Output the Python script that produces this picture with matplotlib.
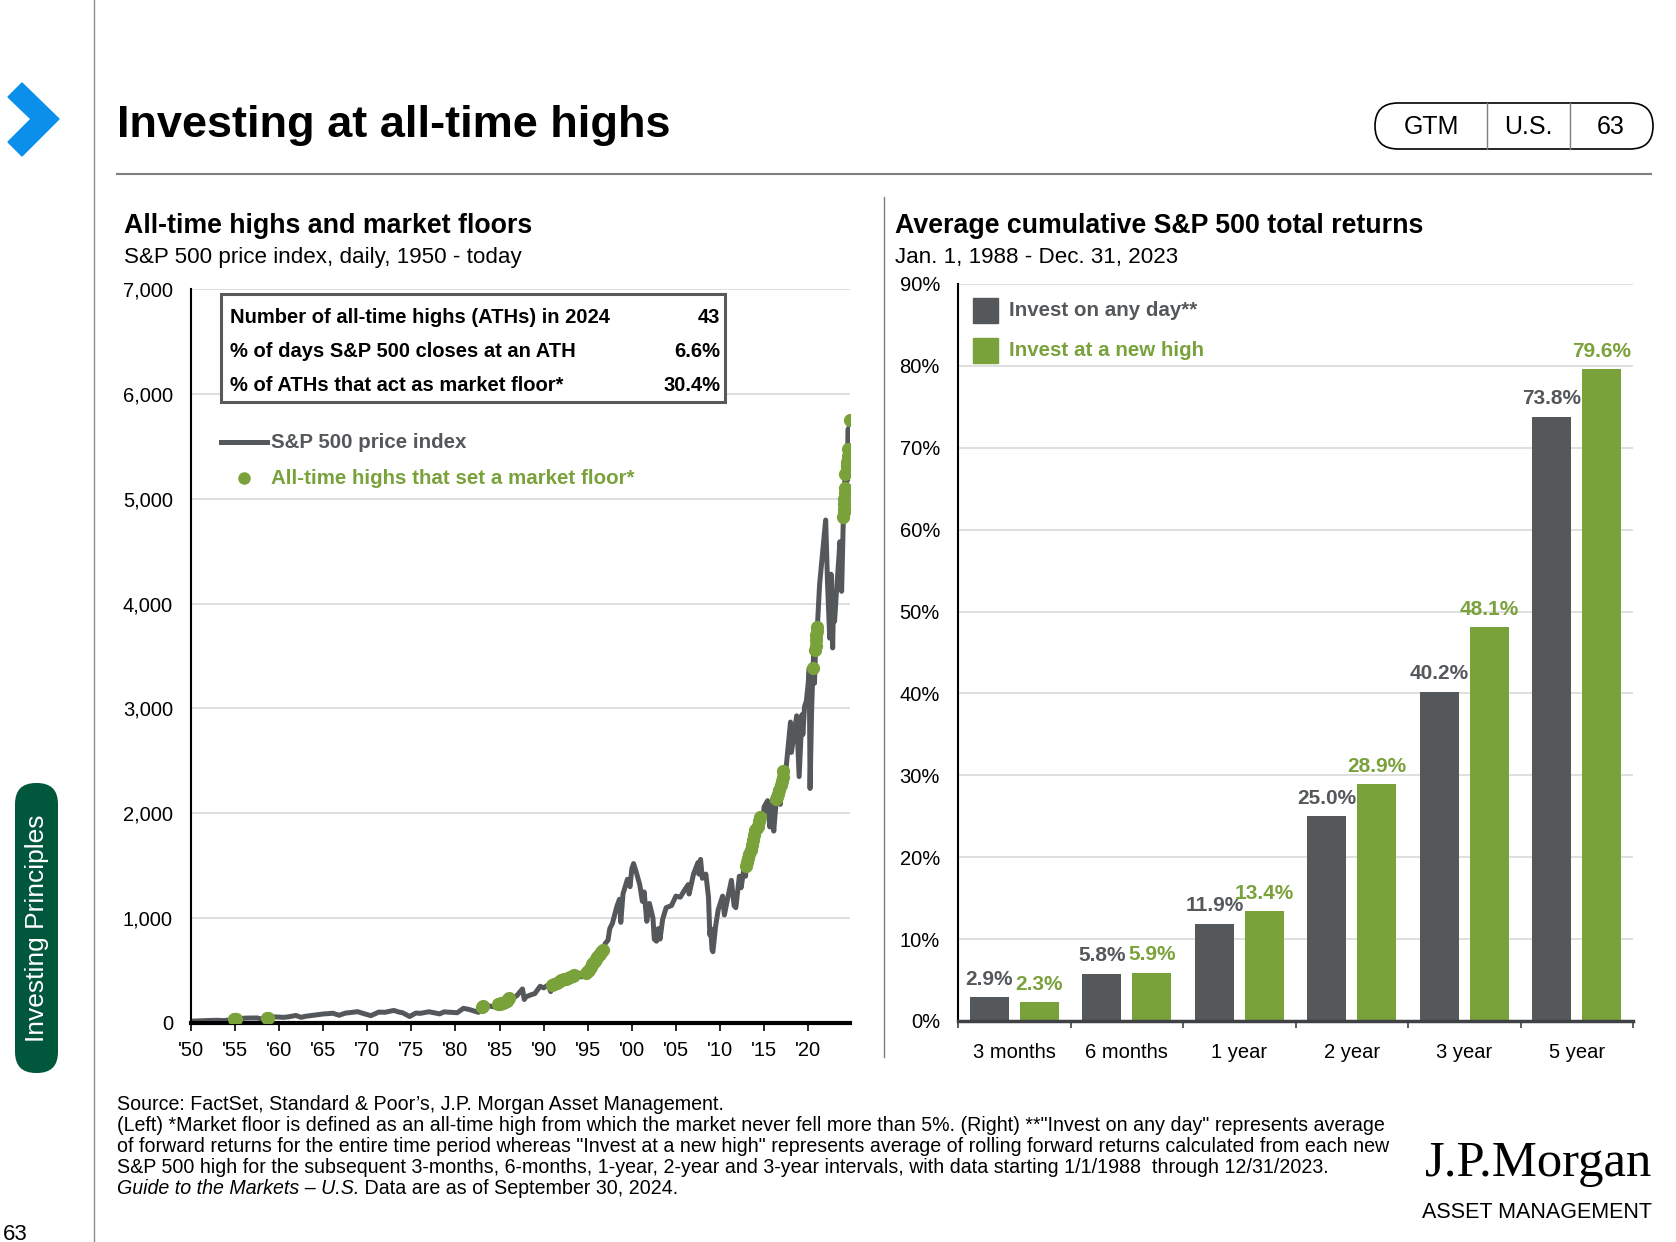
import matplotlib.pyplot as plt
from matplotlib.patches import Polygon, FancyBboxPatch, Rectangle

plt.rcParams['font.family'] = ['Liberation Sans', 'DejaVu Sans']

GRAY = '#55585B'
GREEN = '#7AA23B'
GRID = '#D9D9D9'

# S&P 500 price index
sp_year = [1950.0, 1951.0, 1952.0, 1953.0, 1953.7, 1954.5, 1955.0, 1955.5, 1956.3, 1957.5,
           1957.9, 1958.7, 1959.5, 1960.5, 1961.0, 1961.9, 1962.5, 1963.0, 1964.0, 1965.0,
           1966.1, 1966.8, 1967.5, 1968.9, 1969.5, 1970.4, 1971.3, 1972.0, 1973.0, 1973.6,
           1974.0, 1974.8, 1975.5, 1976.0, 1977.0, 1978.2, 1978.7, 1979.5, 1980.2, 1980.9,
           1981.5, 1982.6, 1983.0, 1983.5, 1984.5, 1984.8, 1985.5, 1986.1, 1986.6, 1987.0,
           1987.6, 1987.8, 1988.0, 1988.6, 1989.0, 1989.6, 1990.0, 1990.5, 1990.8, 1991.0,
           1991.5, 1992.0, 1992.5, 1993.0, 1993.5, 1994.0, 1994.3, 1994.8, 1995.2, 1995.5,
           1995.8, 1996.1, 1996.4, 1996.7, 1997.0, 1997.3, 1997.5, 1997.8, 1998.3, 1998.6,
           1998.75, 1999.0, 1999.5, 1999.8, 2000.0, 2000.2, 2000.5, 2000.9, 2001.2, 2001.4,
           2001.7, 2002.0, 2002.4, 2002.55, 2002.8, 2003.0, 2003.2, 2003.5, 2003.9, 2004.5,
           2005.0, 2005.5, 2006.0, 2006.4, 2006.5, 2007.0, 2007.5, 2007.6, 2007.8, 2008.0,
           2008.4, 2008.7, 2008.85, 2008.95, 2009.1, 2009.2, 2009.5, 2009.8, 2010.3, 2010.5,
           2010.9, 2011.3, 2011.6, 2011.8, 2012.2, 2012.4, 2012.7, 2012.9, 2013.0, 2013.2,
           2013.5, 2013.8, 2014.0, 2014.1, 2014.3, 2014.5, 2014.8, 2015.0, 2015.4, 2015.65,
           2015.9, 2016.1, 2016.4, 2016.6, 2016.85, 2016.9, 2017.1, 2017.2, 2017.5, 2018.0,
           2018.1, 2018.7, 2018.98, 2019.3, 2019.4, 2019.6, 2019.8, 2020.0, 2020.13, 2020.22,
           2020.4, 2020.55, 2020.66, 2020.72, 2020.85, 2020.95, 2021.05, 2021.3, 2021.6, 2021.99,
           2022.2, 2022.45, 2022.6, 2022.78, 2022.9, 2023.0, 2023.2, 2023.5, 2023.6, 2023.8,
           2024.0, 2024.07, 2024.12, 2024.2, 2024.3, 2024.38, 2024.45, 2024.5, 2024.55, 2024.6,
           2024.72]
sp_level = [17, 21, 24, 26, 23, 30, 37, 42, 47, 48,
            40, 50, 58, 54, 58, 72, 54, 64, 75, 86,
            93, 74, 94, 108, 92, 70, 104, 102, 120, 104,
            98, 62, 95, 92, 107, 87, 106, 102, 98, 140,
            130, 102, 150, 168, 152, 180, 192, 240, 238, 265,
            325, 224, 250, 270, 280, 350, 335, 362, 300, 365,
            385, 410, 420, 435, 454, 475, 440, 480, 510, 560,
            590, 630, 660, 700, 760, 790, 900, 950, 1110, 1180,
            960, 1230, 1370, 1300, 1470, 1520, 1440, 1320, 1160, 1250,
            970, 1140, 1000, 800, 780, 900, 800, 990, 1100, 1120,
            1210, 1200, 1270, 1320, 1230, 1420, 1530, 1420, 1560, 1380,
            1420, 1200, 840, 900, 700, 680, 920, 1080, 1210, 1030,
            1200, 1360, 1120, 1100, 1400, 1290, 1460, 1400, 1500, 1570,
            1650, 1750, 1840, 1740, 1880, 1967, 1860, 2060, 2120, 1870,
            2090, 1830, 2140, 2180, 2085, 2270, 2350, 2400, 2430, 2870,
            2580, 2930, 2350, 2940, 2750, 3020, 3070, 3230, 3386, 2237,
            3000, 3390, 3560, 3240, 3600, 3700, 3780, 4180, 4450, 4797,
            4200, 3670, 4280, 3577, 4080, 3830, 4100, 4450, 4590, 4117,
            4830, 4900, 5000, 5240, 4970, 5300, 5350, 5470, 5667, 5186,
            5748]

# all-time highs that set a market floor
ath_year = [1954.9, 1955.0, 1955.1, 1958.6, 1958.75,
            1983.0, 1983.1, 1984.8, 1985.0, 1985.2, 1985.4, 1985.6, 1985.8, 1986.0, 1986.1,
            1991.0, 1991.2, 1991.5, 1991.8, 1992.0, 1992.3, 1992.5, 1992.8, 1993.0, 1993.3, 1993.5,
            1994.8, 1995.0, 1995.2, 1995.35, 1995.5, 1995.65, 1995.8, 1995.95, 1996.1, 1996.25,
            1996.4, 1996.55, 1996.7,
            2013.0, 2013.1, 2013.2, 2013.35, 2013.5, 2013.65, 2013.8, 2013.9, 2014.0, 2014.15,
            2014.3, 2014.4, 2014.5,
            2016.4, 2016.5, 2016.6, 2016.75, 2016.9, 2017.0, 2017.1, 2017.2,
            2020.55, 2020.8, 2020.85, 2020.9, 2020.95, 2021.0, 2021.05,
            2024.0, 2024.04, 2024.07, 2024.1, 2024.12, 2024.15, 2024.17, 2024.2, 2024.38, 2024.42,
            2024.45, 2024.48, 2024.5, 2024.72]
ath_level = [36, 37, 39, 49, 51,
             150, 158, 180, 183, 186, 192, 198, 210, 225, 240,
             365, 375, 385, 400, 410, 415, 420, 428, 435, 445, 454,
             480, 495, 510, 535, 560, 575, 590, 610, 630, 645,
             660, 680, 700,
             1500, 1535, 1570, 1610, 1650, 1700, 1750, 1795, 1840, 1860,
             1880, 1925, 1967,
             2140, 2160, 2180, 2225, 2270, 2310, 2350, 2400,
             3390, 3560, 3600, 3650, 3700, 3740, 3780,
             4830, 4870, 4900, 4950, 5000, 5050, 5100, 5240, 5300, 5320,
             5350, 5410, 5470, 5748]

year_ticks = list(range(1950, 2021, 5))
year_labels = ["'50", "'55", "'60", "'65", "'70", "'75", "'80", "'85",
               "'90", "'95", "'00", "'05", "'10", "'15", "'20"]

table_labels = ['Number of all-time highs (ATHs) in 2024',
                '% of days S&P 500 closes at an ATH',
                '% of ATHs that act as market floor*']
table_values = ['43', '6.6%', '30.4%']

periods = ['3 months', '6 months', '1 year', '2 year', '3 year', '5 year']
any_day = [2.9, 5.8, 11.9, 25.0, 40.2, 73.8]
new_high = [2.3, 5.9, 13.4, 28.9, 48.1, 79.6]

W, H = 1676, 1242
fig = plt.figure(figsize=(W / 100, H / 100), dpi=100)

# ---- left chart ----
ax1 = fig.add_axes([191 / W, 1 - 1023 / H, (850 - 191) / W, (1023 - 289) / H])
ax1.plot(sp_year, sp_level, color=GRAY, lw=3.6, zorder=2)
ax1.plot(ath_year, ath_level, 'o', color=GREEN, ms=8.5, zorder=3)
ax1.set_xlim(1950, 2024.75)
ax1.set_ylim(0, 7000)
ax1.set_yticks(range(0, 7001, 1000))
ax1.set_yticklabels(['0', '1,000', '2,000', '3,000', '4,000', '5,000', '6,000', '7,000'])
ax1.set_xticks(year_ticks)
ax1.set_xticklabels(year_labels)
ax1.grid(axis='y', color=GRID, lw=1.2)
ax1.set_axisbelow(True)
for s in ['top', 'right']:
    ax1.spines[s].set_visible(False)
ax1.spines['left'].set_linewidth(1.5)
ax1.spines['bottom'].set_linewidth(3)
ax1.tick_params(axis='y', length=0, pad=13, labelsize=14.5)
ax1.tick_params(axis='x', length=6, width=1.2, pad=7, labelsize=14.5)

# ---- right chart ----
ax2 = fig.add_axes([958 / W, 1 - 1021 / H, (1633 - 958) / W, (1021 - 284) / H])
xs = range(len(periods))
ax2.bar([x - 0.222 for x in xs], any_day, width=0.345, color=GRAY, zorder=2)
ax2.bar([x + 0.222 for x in xs], new_high, width=0.345, color=GREEN, zorder=2)
for x, v in zip(xs, any_day):
    ax2.annotate(f'{v:.1f}%', (x - 0.222, v), xytext=(0, 9), textcoords='offset points',
                 ha='center', va='baseline', fontsize=15, weight='bold', color=GRAY)
for x, v in zip(xs, new_high):
    ax2.annotate(f'{v:.1f}%', (x + 0.222, v), xytext=(0, 9), textcoords='offset points',
                 ha='center', va='baseline', fontsize=15, weight='bold', color=GREEN)
ax2.set_xlim(-0.5, len(periods) - 0.5)
ax2.set_ylim(0, 90)
ax2.set_yticks(range(0, 91, 10))
ax2.set_yticklabels([f'{v}%' for v in range(0, 91, 10)])
ax2.set_xticks(list(xs))
ax2.set_xticklabels(periods)
ax2.set_xticks([x - 0.5 for x in range(len(periods) + 1)], minor=True)
ax2.grid(axis='y', color=GRID, lw=1.2)
ax2.set_axisbelow(True)
for s in ['top', 'right']:
    ax2.spines[s].set_visible(False)
ax2.spines['left'].set_linewidth(1.5)
ax2.spines['bottom'].set_linewidth(2.5)
ax2.spines['bottom'].set_color('#3F4144')
ax2.tick_params(axis='y', length=0, pad=13, labelsize=14.5)
ax2.tick_params(axis='x', which='major', length=0, pad=16, labelsize=14.5)
ax2.tick_params(axis='x', which='minor', length=5, width=1.2, color='#3F4144')

# ---- page decorations (pixel coordinates, y down) ----
ov = fig.add_axes([0, 0, 1, 1], zorder=5)
ov.set_xlim(0, W)
ov.set_ylim(H, 0)
ov.axis('off')

ov.add_patch(Polygon([(8, 97), (22, 83), (59, 119), (22, 156), (8, 142), (31, 119)],
                     closed=True, color='#0A8FEA'))
ov.plot([94, 94], [0, H], color='#8C8C8C', lw=1)
ov.text(117, 137, 'Investing at all-time highs', fontsize=32.5, weight='bold', va='baseline')
ov.plot([117, 1651], [174, 174], color='#7F7F7F', lw=1.5)

ov.add_patch(FancyBboxPatch((1375, 103), 278, 46, boxstyle='round,pad=0,rounding_size=23',
                            fc='none', ec='black', lw=1.2))
ov.plot([1487, 1487], [103, 149], color='#7F7F7F', lw=1)
ov.plot([1570, 1570], [103, 149], color='#7F7F7F', lw=1)
for cx, s in [(1431, 'GTM'), (1528, 'U.S.'), (1611, '63')]:
    ov.text(cx, 127, s, fontsize=18, ha='center', va='center')

ov.text(124, 233, 'All-time highs and market floors', fontsize=19.3, weight='bold', va='baseline')
ov.text(124, 263, 'S&P 500 price index, daily, 1950 - today', fontsize=16.1, va='baseline')
ov.text(895, 233, 'Average cumulative S&P 500 total returns', fontsize=19.3, weight='bold', va='baseline')
ov.text(895, 263, 'Jan. 1, 1988 - Dec. 31, 2023', fontsize=16.1, va='baseline')
ov.plot([884, 884], [197, 1057], color='#7F7F7F', lw=1)

# stats box
ov.add_patch(Rectangle((221, 294), 504, 108, fc='white', ec='#595959', lw=2.2))
for i, (lab, val) in enumerate(zip(table_labels, table_values)):
    yb = 323 + 34 * i
    ov.text(230, yb, lab, fontsize=14.5, weight='bold', va='baseline')
    ov.text(720, yb, val, fontsize=14.5, weight='bold', va='baseline', ha='right')

# left legend
ov.plot([221, 267], [442, 442], color=GRAY, lw=3.6)
ov.text(271, 442, 'S&P 500 price index', fontsize=14.8, weight='bold', color=GRAY, va='center')
ov.plot([244], [478], 'o', color=GREEN, ms=8)
ov.text(271, 478, 'All-time highs that set a market floor*', fontsize=14.8, weight='bold',
        color=GREEN, va='center')

# right legend
ov.add_patch(Rectangle((973, 298), 25, 25, color=GRAY))
ov.text(1009, 311, 'Invest on any day**', fontsize=14.8, weight='bold', color=GRAY, va='center')
ov.add_patch(Rectangle((973, 338), 25, 25, color=GREEN))
ov.text(1009, 351, 'Invest at a new high', fontsize=14.8, weight='bold', color=GREEN, va='center')

# side tab and page number
ov.add_patch(FancyBboxPatch((15, 783), 43, 290, boxstyle='round,pad=0,rounding_size=21',
                            fc='#00573C', ec='none'))
ov.text(37, 928, 'Investing Principles', fontsize=19, color='white', rotation=90,
        ha='center', va='center')
ov.text(3, 1240, '63', fontsize=16, va='baseline')

# footnotes
notes = ['Source: FactSet, Standard & Poor\u2019s, J.P. Morgan Asset Management.',
         '(Left) *Market floor is defined as an all-time high from which the market never fell more than 5%. '
         '(Right) **"Invest on any day" represents average',
         'of forward returns for the entire time period whereas "Invest at a new high" represents average '
         'of rolling forward returns calculated from each new',
         'S&P 500 high for the subsequent 3-months, 6-months, 1-year, 2-year and 3-year intervals, '
         'with data starting 1/1/1988  through 12/31/2023.']
for i, s in enumerate(notes):
    ov.text(117, 1110 + 21 * i, s, fontsize=14.1, va='baseline')
t = ov.text(117, 1194, 'Guide to the Markets \u2013 U.S.', fontsize=14.1, style='italic', va='baseline')
ov.annotate(' Data are as of September 30, 2024.', xy=(1, 0), xycoords=t, fontsize=14.1,
            va='bottom', ha='left')

# logo
ov.text(1652, 1176, 'J.P.Morgan', fontsize=36.5, family='Liberation Serif', ha='right', va='baseline')
ov.text(1652, 1218, 'ASSET MANAGEMENT', fontsize=15.5, ha='right', va='baseline')

fig.savefig('out.png', dpi=100)
